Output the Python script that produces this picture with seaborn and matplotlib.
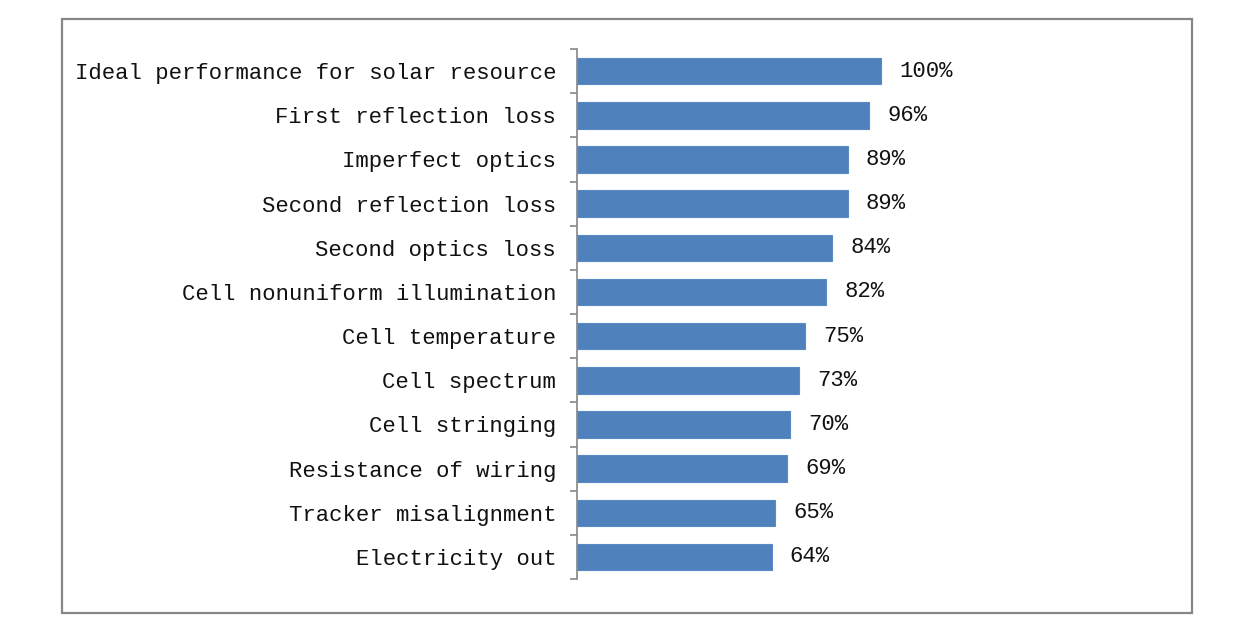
"""Horizontal bar chart of concentrator PV performance losses."""

import matplotlib
matplotlib.use('Agg')
import matplotlib.pyplot as plt
from matplotlib.patches import Rectangle
import numpy as np
import seaborn as sns

categories = [
    "Ideal performance for solar resource",
    "First reflection loss",
    "Imperfect optics",
    "Second reflection loss",
    "Second optics loss",
    "Cell nonuniform illumination",
    "Cell temperature",
    "Cell spectrum",
    "Cell stringing",
    "Resistance of wiring",
    "Tracker misalignment",
    "Electricity out",
]
values = [100, 96, 89, 89, 84, 82, 75, 73, 70, 69, 65, 64]

sns.set_style("white")
plt.rcParams['font.family'] = ['Liberation Mono', 'DejaVu Sans Mono']

fig = plt.figure(figsize=(12.55, 6.25), dpi=100)
ax = fig.add_axes([577 / 1255, 46 / 625, 593 / 1255, 530 / 625])

sns.barplot(x=values, y=categories, orient="h", color="#4F81BD",
            saturation=1, width=0.6, edgecolor="#5A8AC6", linewidth=0.8, ax=ax)

ax.set_xlim(0, 195)
ax.set_ylim(len(categories) - 0.5, -0.5)
ax.xaxis.set_visible(False)
for side in ["top", "right", "bottom"]:
    ax.spines[side].set_visible(False)
ax.spines["left"].set_color("#868686")
ax.spines["left"].set_linewidth(1.2)

# boundary ticks between categories, labels centred on the bars
ax.set_yticks(np.arange(-0.5, len(categories)), minor=True)
ax.tick_params(axis="y", which="minor", length=5, width=1.2, color="#868686", left=True)
ax.tick_params(axis="y", which="major", length=0, pad=15, labelsize=16, labelcolor="#111111")

for i, v in enumerate(values):
    ax.text(v + 6, i, f"{v}%", va="center", ha="left", fontsize=16, color="#111111")

fig.patches.append(Rectangle((62 / 1255, 12 / 625), 1130 / 1255, 594 / 625,
                             transform=fig.transFigure, fill=False,
                             edgecolor="#868686", linewidth=1.6))

fig.savefig("out.png", dpi=100)
